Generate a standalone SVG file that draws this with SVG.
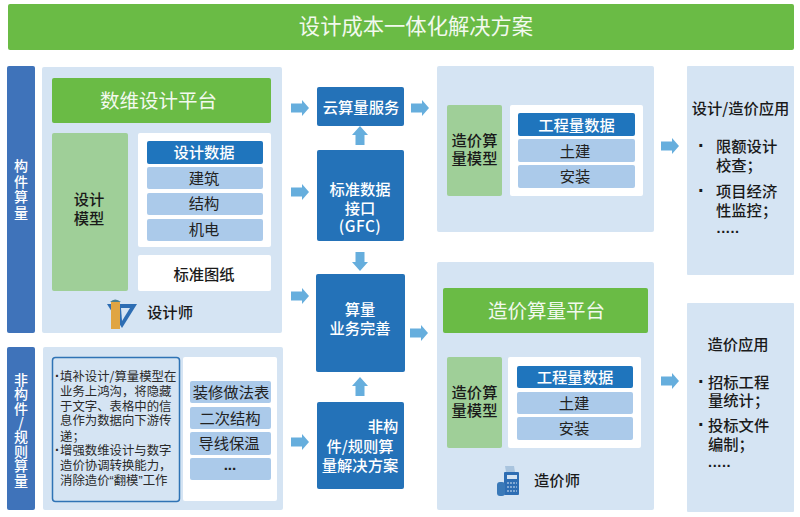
<svg xmlns="http://www.w3.org/2000/svg" width="800" height="517" viewBox="0 0 800 517">
<style>
text{font-family:"Noto Sans CJK SC","Liberation Sans",sans-serif;text-anchor:middle}
.pn{fill:#d5e4f3}.gr{fill:#6abb45}.mg{fill:#9fcf98}.wh{fill:#fff}.db{fill:#2472b8}.bl{fill:#3f73ba}.lb{fill:#abcaea}.hd{fill:#1f75bd}
.t-g{fill:#f2f9ee;font-size:19.500px}.t-w{fill:#fff;font-weight:500;font-size:15.300px}.t-k{fill:#1a1a1a;font-weight:500;font-size:15.300px}.t-i{fill:#222;font-size:15.300px}.t-s{fill:#2a2a2a;font-size:12.400px}.l{text-anchor:start}
.v{fill:#fff;font-weight:500;font-size:14px;writing-mode:vertical-rl;text-orientation:upright}
.lat{font-family:"Liberation Sans",sans-serif}
.bu{font-family:"Liberation Sans",sans-serif;font-weight:700}
.dots{font-family:"Liberation Sans",sans-serif;font-weight:700;font-size:14.500px;letter-spacing:.6px;text-anchor:start;fill:#1a1a1a}
.ar{fill:#66aedd}
</style>
<rect width="800" height="517" fill="#fff"/>
<g id="title"><rect class="gr" x="8" y="4" width="786" height="46" rx="2"/><text x="416" y="34" fill="#f2f9ee" font-size="21.300">设计成本一体化解决方案</text></g>
<g id="component-label"><rect class="bl" x="7" y="66" width="28" height="267" rx="2"/><text class="v" x="21" y="190" style="letter-spacing:1.800px">构件算量</text></g>
<g id="design-platform"><rect class="pn" x="42" y="67" width="240" height="266" rx="2"/><rect class="gr" x="52" y="78" width="219" height="45" rx="2"/><text class="t-g" x="158.500" y="108">数维设计平台</text></g>
<g id="design-model"><rect class="mg" x="52" y="133" width="76" height="158" rx="2"/><text class="t-k"><tspan x="89" y="205">设计</tspan><tspan x="89" y="224">模型</tspan></text></g>
<g id="design-data"><rect class="wh" x="138" y="133" width="133" height="114" rx="2"/><rect class="hd" x="147" y="141" width="116" height="23" rx="2"/><text class="t-w" x="204" y="158">设计数据</text>
<rect class="lb" x="147" y="167" width="116" height="22" rx="2"/><text class="t-i" x="204" y="184">建筑</text>
<rect class="lb" x="147" y="193" width="116" height="22" rx="2"/><text class="t-i" x="204" y="209">结构</text>
<rect class="lb" x="147" y="219" width="116" height="22" rx="2"/><text class="t-i" x="204" y="235">机电</text></g>
<g id="drawings"><rect class="wh" x="138" y="255" width="133" height="36" rx="2"/><text class="t-k" x="204" y="280">标准图纸</text></g>
<g id="designer"><path d="M107 304h30l-15 24z" fill="#2d6db3"/><path d="M121 308h9l-8 13z" fill="#d5e4f3"/><rect x="111" y="302" width="9" height="27" fill="#e0a542"/><path d="M110 302q5-5 11 0z" fill="#4a7f8f"/><text class="t-k" x="170" y="318">设计师</text></g>
<g id="non-component-label"><rect class="bl" x="7" y="347" width="28" height="163" rx="2"/><text class="v" x="21" y="430" style="letter-spacing:.4px">非构件/规则算量</text></g>
<g id="non-component-panel"><rect class="pn" x="43" y="347" width="240" height="163" rx="2"/></g>
<g id="notes"><rect x="52.500" y="357.500" width="127" height="144" rx="3" fill="#d5e4f3" stroke="#2f73b5" stroke-width="1.500"/>
<text class="t-s l"><tspan class="bu" x="55" y="380.500" font-size="14">·</tspan><tspan x="60" y="380.500">填补设计/算量模型在</tspan><tspan x="60" y="396">业务上鸿沟，将隐藏</tspan><tspan x="60" y="410.500">于文字、表格中的信</tspan><tspan x="60" y="425">息作为数据向下游传</tspan><tspan x="60" y="440.500">递；</tspan><tspan class="bu" x="55" y="455" font-size="14">·</tspan><tspan x="60" y="455">增强数维设计与数字</tspan><tspan x="60" y="470">造价协调转换能力，</tspan><tspan x="60" y="485">消除造价<tspan class="lat">“</tspan>翻模<tspan class="lat">”</tspan>工作</tspan></text></g>
<g id="rule-list"><rect class="wh" x="183" y="357" width="94" height="144" rx="2"/>
<rect class="lb" x="190" y="381" width="81" height="22" rx="2"/><text class="t-i" x="231" y="398">装修做法表</text>
<rect class="lb" x="190" y="407" width="81" height="22" rx="2"/><text class="t-i" x="230" y="424">二次结构</text>
<rect class="lb" x="190" y="432" width="81" height="23" rx="2"/><text class="t-i" x="229" y="449">导线保温</text>
<rect class="lb" x="190" y="458" width="81" height="22" rx="2"/><text class="t-i lat" x="230" y="470" font-weight="700">...</text></g>
<g id="cloud-service"><rect class="db" x="317" y="87" width="87" height="39" rx="2"/><text class="t-w" x="361" y="113">云算量服务</text></g>
<g id="gfc"><rect class="db" x="317" y="150" width="87" height="91" rx="2"/><text class="t-w"><tspan x="360" y="195">标准数据</tspan><tspan x="360" y="214">接口</tspan><tspan x="360" y="232" style="letter-spacing:.5px">(GFC)</tspan></text></g>
<g id="improve"><rect class="db" x="316" y="274" width="89" height="98" rx="2"/><text class="t-w"><tspan x="360" y="315">算量</tspan><tspan x="360" y="334">业务完善</tspan></text></g>
<g id="rule-solution"><rect class="db" x="317" y="402" width="87" height="87" rx="2"/><text class="t-w"><tspan x="383" y="432">非构</tspan><tspan x="360" y="452">件/规则算</tspan><tspan x="360" y="471">量解决方案</tspan></text></g>
<g id="cost-model-upper"><rect class="pn" x="437" y="66" width="217" height="166" rx="2"/><rect class="mg" x="447" y="105" width="55" height="91" rx="2"/><text class="t-k"><tspan x="474.500" y="146">造价算</tspan><tspan x="474.500" y="164">量模型</tspan></text>
<rect class="wh" x="510" y="105" width="133" height="91" rx="2"/><rect class="hd" x="518" y="113" width="117" height="23" rx="2"/><text class="t-w" x="576.500" y="131">工程量数据</text>
<rect class="lb" x="518" y="139" width="117" height="23" rx="2"/><text class="t-i" x="575" y="157">土建</text>
<rect class="lb" x="518" y="165" width="117" height="23" rx="2"/><text class="t-i" x="575" y="182">安装</text></g>
<g id="cost-platform"><rect class="pn" x="437" y="262" width="217" height="248" rx="2"/><rect class="gr" x="443" y="288" width="205" height="45" rx="2"/><text class="t-g" x="546.500" y="318">造价算量平台</text></g>
<g id="cost-model-lower"><rect class="mg" x="447" y="357" width="55" height="91" rx="2"/><text class="t-k"><tspan x="474.500" y="398">造价算</tspan><tspan x="474.500" y="416">量模型</tspan></text>
<rect class="wh" x="508" y="357" width="133" height="91" rx="2"/><rect class="hd" x="517" y="366" width="116" height="22" rx="2"/><text class="t-w" x="575" y="383">工程量数据</text>
<rect class="lb" x="517" y="392" width="116" height="22" rx="2"/><text class="t-i" x="574" y="409">土建</text>
<rect class="lb" x="517" y="417" width="116" height="23" rx="2"/><text class="t-i" x="574" y="434">安装</text></g>
<g id="cost-engineer"><rect x="504" y="472" width="15" height="23" rx="1" fill="#2d6db3"/><path d="M505 466h9l1 6h-9z" fill="#a9c4de"/><rect x="497" y="482" width="8" height="14" rx="3" fill="#3a79b8"/><rect x="507" y="475" width="10" height="4" fill="#d5e4f3"/><path d="M507 483h10M507 487h10M507 491h10" stroke="#d5e4f3" stroke-dasharray="2 1"/><text class="t-k" x="557" y="486">造价师</text></g>
<g id="app-upper"><rect class="pn" x="687" y="66" width="107" height="209" rx="1"/><text class="t-k" x="740.500" y="114">设计/造价应用</text>
<text class="t-k l"><tspan class="bu" x="698" y="151.500" font-size="20">·</tspan><tspan x="716" y="151.500">限额设计</tspan><tspan x="716" y="170.500">校查；</tspan><tspan class="bu" x="698" y="196.500" font-size="20">·</tspan><tspan x="716" y="196.500">项目经济</tspan><tspan x="716" y="215.500">性监控；</tspan></text><text class="dots" x="716.500" y="233">.....</text></g>
<g id="app-lower"><rect class="pn" x="687" y="303" width="107" height="209" rx="1"/><text class="t-k" x="738" y="349.500">造价应用</text>
<text class="t-k l"><tspan class="bu" x="698" y="387.500" font-size="20">·</tspan><tspan x="708" y="387.500">招标工程</tspan><tspan x="708" y="405.500">量统计；</tspan><tspan class="bu" x="698" y="430.500" font-size="20">·</tspan><tspan x="708" y="430.500">投标文件</tspan><tspan x="708" y="449.500">编制；</tspan></text><text class="dots" x="708" y="467">.....</text></g>
<g id="connectors" class="ar">
<defs><path id="ra" d="M0-4.500h11v-3.500l7 8-7 8v-3.500H0z"/><path id="ua" d="M-4.500 9v-10h-3.500l8-9 8 9h-3.500v10z"/></defs>
<use href="#ra" x="291" y="108"/><use href="#ra" x="291" y="192"/><use href="#ra" x="291" y="296"/><use href="#ra" x="291" y="442"/>
<use href="#ra" x="411" y="108"/><use href="#ra" x="410" y="333"/><use href="#ra" x="661" y="146"/><use href="#ra" x="661" y="381"/>
<use href="#ua" x="360" y="136"/><use href="#ua" x="360" y="387"/><use href="#ua" transform="translate(360 261) scale(1 -1)"/>
</g>
</svg>
